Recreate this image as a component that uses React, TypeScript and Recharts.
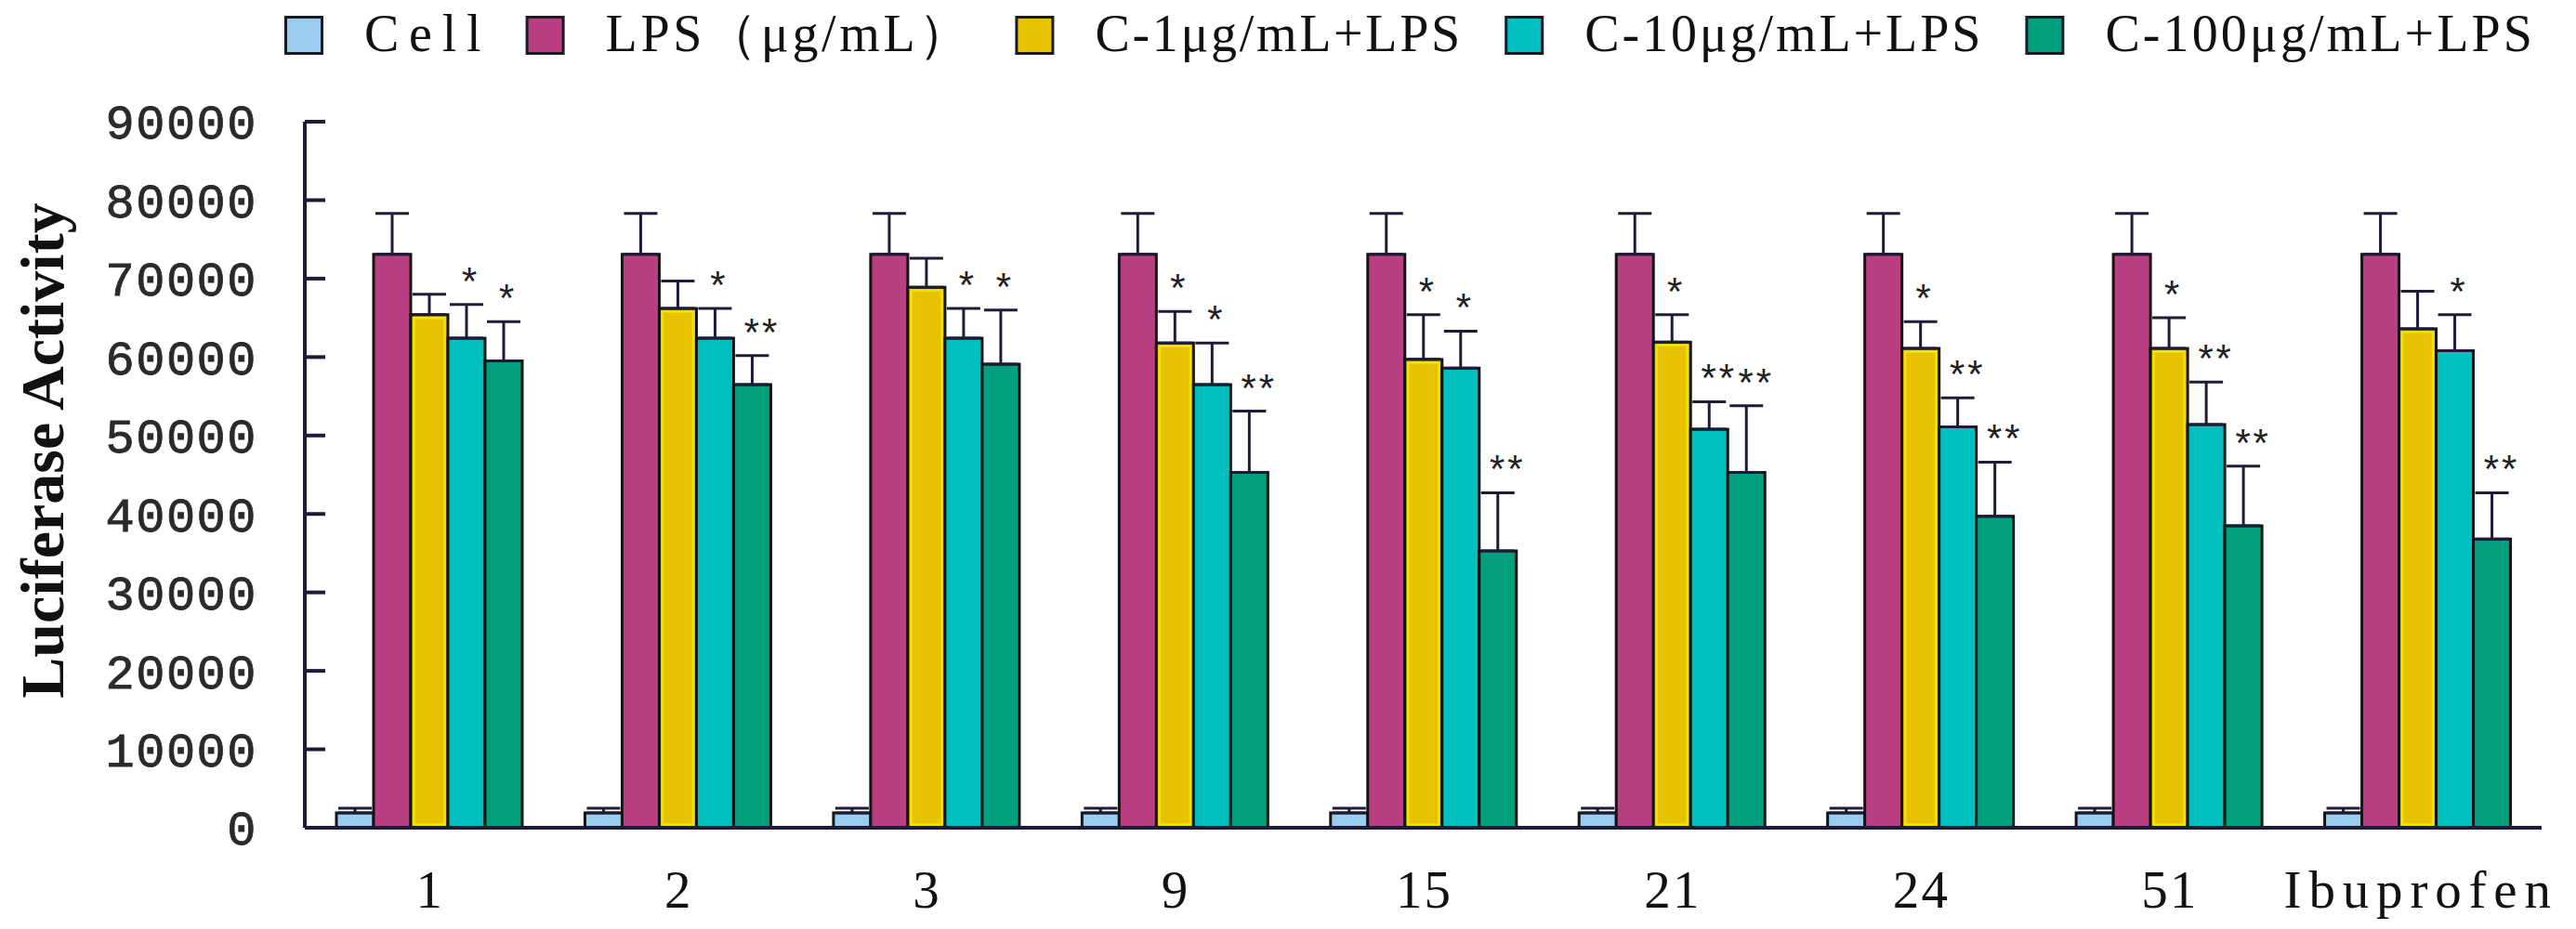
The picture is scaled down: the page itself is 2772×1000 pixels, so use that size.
import React from "react";
import { BarChart, Bar, XAxis, YAxis, ErrorBar, LabelList } from "recharts";

const categories = ["1", "2", "3", "9", "15", "21", "24", "51", "Ibuprofen"];
const seriesNames = ["Cell", "LPS（μg/mL）", "C-1μg/mL+LPS", "C-10μg/mL+LPS", "C-100μg/mL+LPS"];
const seriesColors = ["#99CCEE", "#BA3F82", "#E8C200", "#00BFBF", "#00A07C"];

const cellValues = [1900, 1900, 1900, 1900, 1900, 1900, 1900, 1900, 1900];
const cellErr = [600, 600, 600, 600, 600, 600, 600, 600, 600];
const lpsValues = [73100, 73100, 73100, 73100, 73100, 73100, 73100, 73100, 73100];
const lpsErr = [5200, 5200, 5200, 5200, 5200, 5200, 5200, 5200, 5200];
const c1Values = [65400, 66200, 68900, 61800, 59700, 61900, 61100, 61100, 63600];
const c1Err = [2600, 3500, 3700, 4000, 5700, 3500, 3400, 3900, 4800];
const c10Values = [62400, 62400, 62400, 56500, 58600, 50800, 51100, 51400, 60800];
const c10Err = [4300, 3800, 3800, 5300, 4700, 3500, 3700, 5400, 4600];
const c100Values = [59500, 56500, 59100, 45300, 35300, 45300, 39700, 38500, 36800];
const c100Err = [5000, 3700, 6900, 7800, 7400, 8500, 6900, 7600, 5900];

// significance marks above the error bars
const cellStars = ["", "", "", "", "", "", "", "", ""];
const lpsStars = ["", "", "", "", "", "", "", "", ""];
const c1Stars = ["", "", "", "*", "*", "*", "*", "*", ""];
const c10Stars = ["*", "*", "*", "*", "*", "**", "**", "**", "*"];
const c100Stars = ["*", "**", "*", "**", "**", "**", "**", "**", "**"];

const yTicks = [0, 10000, 20000, 30000, 40000, 50000, 60000, 70000, 80000, 90000];
const boundaryTicks = [1, 2, 3, 4, 5, 6, 7, 8, 9];

const allValues = [cellValues, lpsValues, c1Values, c10Values, c100Values];
const allErr = [cellErr, lpsErr, c1Err, c10Err, c100Err];
const allStars = [cellStars, lpsStars, c1Stars, c10Stars, c100Stars];

const data = categories.map((name, j) => {
  const row: any = { name };
  allValues.forEach((vals, i) => {
    row[`s${i}`] = vals[j];
    row[`e${i}`] = [0, allErr[i][j]];
    row[`t${i}`] = allStars[i][j];
  });
  return row;
});

const AXIS = "#1c1c38";
const MONO = "'Liberation Mono', 'DejaVu Sans Mono', monospace";
const SERIF = "'Liberation Serif', 'DejaVu Serif', serif";
const CHAR_W = 33.4; // the original uses a fixed-pitch serif face

// full-width characters take two cells
const cells = (s: string) => Array.from(s).reduce((n, c) => n + (c.charCodeAt(0) > 0xff00 ? 2 : 1), 0);

const YellowShape = (props: any) => {
  const { x, y, width, height } = props;
  return (
    <g>
      <rect x={x} y={y} width={width} height={height} fill="#E8C200" stroke="#141414" strokeWidth={3} />
      <rect x={x + 3.5} y={y + 3.5} width={Math.max(width - 7, 0)} height={Math.max(height - 7, 0)} fill="none" stroke="#F2E400" strokeWidth={2.5} />
    </g>
  );
};

const starContent = (i: number) => (props: any) => {
  const { x, y, width, height, value, index } = props;
  if (!value) return null;
  const v = allValues[i][index];
  const capY = y - allErr[i][index] * (height / v);
  const n = String(value).length;
  return (
    <text x={x + width / 2 + 3 + (n > 1 ? 3 : 0)} y={capY - 9} textAnchor="middle" fontFamily={MONO} fontSize={42} letterSpacing={n > 1 ? -6 : 0} fill="#222">
      {value}
    </text>
  );
};

const XTick = (props: any) => {
  const { x, y, payload } = props;
  const s = String(payload.value);
  const extra = s.length > 1 ? { textLength: s.length * 32.6 - 6, lengthAdjust: "spacing" } : {};
  return (
    <text x={x} y={y + 86} textAnchor="middle" fontFamily={SERIF} fontSize={57} fill="#111" {...extra}>
      {s}
    </text>
  );
};

const YTitle = (props: any) => {
  const vb = props.viewBox;
  const cx = vb.x + 40;
  const cy = vb.y + vb.height / 2 - 26;
  return (
    <text transform={`translate(${cx},${cy}) rotate(-90)`} textAnchor="middle" fontFamily={SERIF} fontWeight="bold" fontSize={66} fill="#111">
      Luciferase Activity
    </text>
  );
};

const Legend = () => {
  let x = 306;
  const items = seriesNames.map((n, i) => {
    const sx = x;
    const tx = sx + 86;
    const len = cells(n) * CHAR_W;
    x = tx + len + 40;
    return (
      <g key={n}>
        <rect x={sx + 1.5} y={18.5} width={39} height={39} fill={seriesColors[i]} stroke="#1a1a28" strokeWidth={3} />
        <text x={tx} y={55} fontFamily={SERIF} fontSize={56} fill="#111" textLength={len - 8} lengthAdjust="spacing">
          {n}
        </text>
      </g>
    );
  });
  return (
    <svg width={2772} height={80} style={{ position: "absolute", left: 0, top: 0 }}>
      {items}
    </svg>
  );
};

export default function App() {
  return (
    <div style={{ position: "absolute", left: 0, top: 0, width: 2772, height: 1000, background: "#fff" }}>
      <BarChart width={2772} height={1000} data={data} margin={{ top: 131, right: 37, bottom: 9, left: 28 }} barGap={0}>
        <XAxis xAxisId="b" type="number" domain={[0, 9]} ticks={boundaryTicks} allowDataOverflow height={0} tick={false} axisLine={false} tickLine={{ stroke: AXIS, strokeWidth: 3 }} tickSize={-18} />
        <XAxis xAxisId={0} dataKey="name" type="category" height={100} interval={0} tickLine={false} tickSize={0} tickMargin={0} axisLine={{ stroke: AXIS, strokeWidth: 4 }} tick={<XTick />} />
        <YAxis
          domain={[0, 90000]}
          ticks={yTicks}
          interval={0}
          width={300}
          axisLine={{ stroke: AXIS, strokeWidth: 4 }}
          tickLine={{ stroke: AXIS, strokeWidth: 4 }}
          tickSize={-22}
          tickMargin={73}
          tick={{ fontFamily: MONO, fontSize: 52, letterSpacing: 1.5, fill: "#2a2a2a", stroke: "#2a2a2a", strokeWidth: 0.8 }}
          label={{ content: <YTitle /> } as any}
        />
        {seriesNames.map((n, i) => (
          <Bar
            key={n}
            dataKey={`s${i}`}
            name={n}
            fill={seriesColors[i]}
            stroke="#141414"
            strokeWidth={3}
            barSize={40}
            isAnimationActive={false}
            shape={i === 2 ? <YellowShape /> : undefined}
          >
            <ErrorBar dataKey={`e${i}`} direction="y" width={18} stroke={AXIS} strokeWidth={3} />
            <LabelList dataKey={`t${i}`} content={starContent(i)} />
          </Bar>
        ))}
      </BarChart>
      <Legend />
    </div>
  );
}
